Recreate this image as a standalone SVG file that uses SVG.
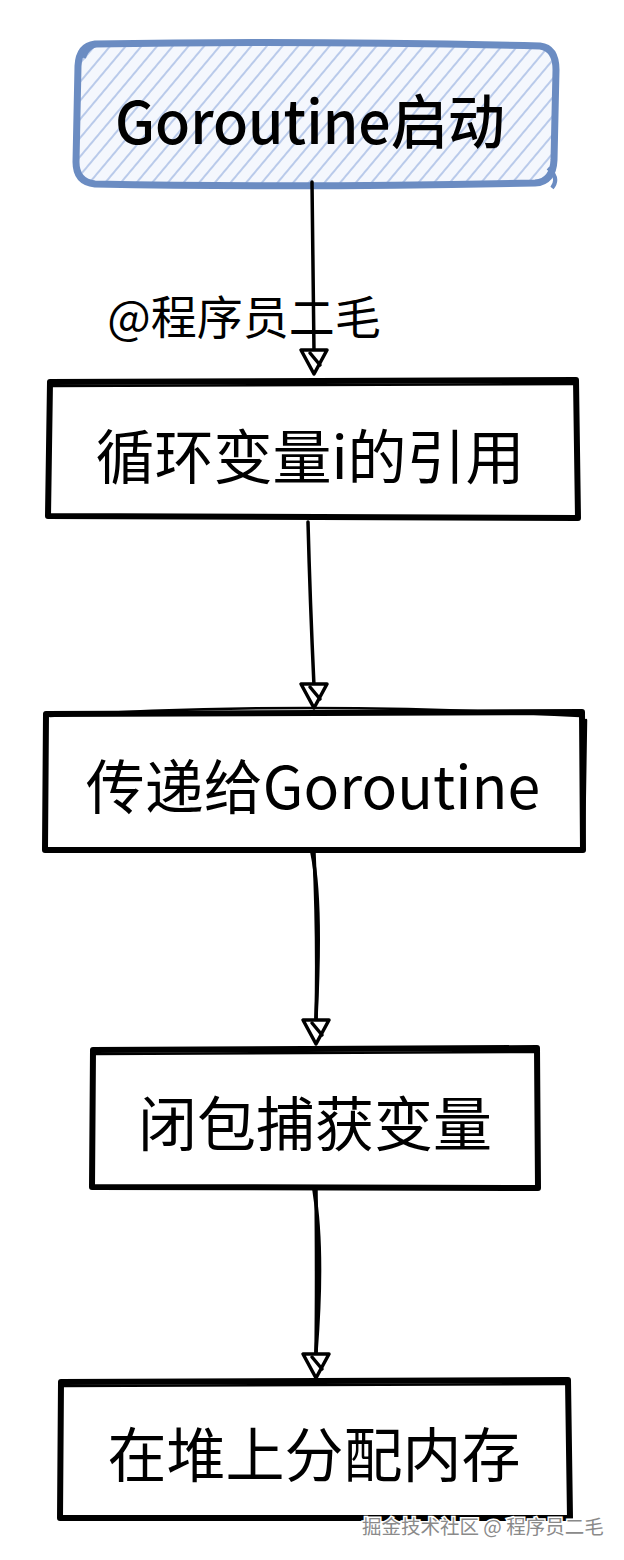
<svg xmlns="http://www.w3.org/2000/svg" width="624" height="1560" viewBox="0 0 624 1560">
<defs>
<pattern id="hatch" patternUnits="userSpaceOnUse" width="12" height="12" patternTransform="rotate(-50)">
<rect width="12" height="12" fill="#f4f7fd"/>
<line x1="0" y1="6" x2="12" y2="6" stroke="#b9caea" stroke-width="2"/>
</pattern>
<style>
.box{fill:#ffffff;stroke:#000;stroke-width:6;stroke-linejoin:round;stroke-linecap:round}
.box2{fill:none;stroke:#000;stroke-width:2.5;stroke-linecap:round}
.t{font-family:"Noto Sans CJK SC","Noto Sans",sans-serif;font-size:59px;fill:#000;text-anchor:middle;dominant-baseline:central}
.ln{fill:none;stroke:#000;stroke-width:3.5;stroke-linecap:round}
.ah{fill:#fff;stroke:#000;stroke-width:3.5;stroke-linejoin:round}
.wm{font-family:"Noto Sans CJK SC",sans-serif;font-size:19.5px;fill:#8a8a8a;stroke:#fff;stroke-width:3;paint-order:stroke}
</style>
</defs>

<g id="node-start">
<path d="M95,44 Q300,40 540,46 Q556,48 556,70 L554,160 Q553,182 535,183 Q300,188 95,184 Q76,182 76,162 L78,66 Q79,46 95,44 Z" fill="url(#hatch)" stroke="#6b8cc2" stroke-width="7" stroke-linejoin="round"/>
<path d="M84,58 Q88,44 104,44 M548,168 Q560,178 552,188" fill="none" stroke="#6b8cc2" stroke-width="4"/>
<text class="t" x="310" y="118" font-size="52" font-weight="500" textLength="390" lengthAdjust="spacingAndGlyphs">Goroutine启动</text>
</g>

<g id="label-author">
<text x="244" y="314" font-family="'Noto Sans CJK SC',sans-serif" font-size="46" text-anchor="middle" dominant-baseline="central">@程序员二毛</text>
</g>

<g id="node-loopvar">
<path class="box" d="M50,382 L576,380 L578,518 L48,516 Z"/>
<path class="box2" d="M52,386 L574,384"/>
<text class="t" x="310" y="453">循环变量i的引用</text>
</g>

<g id="node-pass">
<path class="box" d="M46,714 L582,712 L583,850 L45,850 Z"/>
<path class="box2" d="M50,716 Q300,700 580,716 M586,720 L584,846"/>
<text class="t" x="313" y="783">传递给Goroutine</text>
</g>

<g id="node-closure">
<path class="box" d="M93,1050 L537,1048 L538,1188 L92,1187 Z"/>
<path class="box2" d="M95,1054 L535,1052"/>
<text class="t" x="315" y="1120">闭包捕获变量</text>
</g>

<g id="node-heap">
<path class="box" d="M61,1382 L568,1380 L570,1518 L60,1518 Z"/>
<path class="box2" d="M64,1386 L566,1384"/>
<text class="t" x="314" y="1451">在堆上分配内存</text>
</g>

<g id="connectors">
<path class="ln" d="M312,182 Q313,280 314,352"/>
<path class="ah" d="M301,350 L327,350 L314,374 Z"/>
<path class="ln" d="M310,353 L320,365"/>

<path class="ln" d="M308,522 Q310,600 314,686"/>
<path class="ah" d="M301,684 L327,684 L314,708 Z"/>
<path class="ln" d="M310,687 L320,699"/>

<path class="ln" d="M314,853 Q318,940 316,1020"/>
<path class="ln" d="M312,853 Q322,900 316,1018" stroke-width="2"/>
<path class="ah" d="M303,1020 L329,1020 L316,1044 Z"/>
<path class="ln" d="M312,1023 L322,1035"/>

<path class="ln" d="M316,1190 Q317,1280 316,1354"/>
<path class="ln" d="M314,1190 Q324,1250 316,1352" stroke-width="2"/>
<path class="ah" d="M303,1354 L329,1354 L316,1378 Z"/>
<path class="ln" d="M312,1357 L322,1369"/>
</g>

<text class="wm" x="362" y="1534">掘金技术社区 @ 程序员二毛</text>
</svg>
